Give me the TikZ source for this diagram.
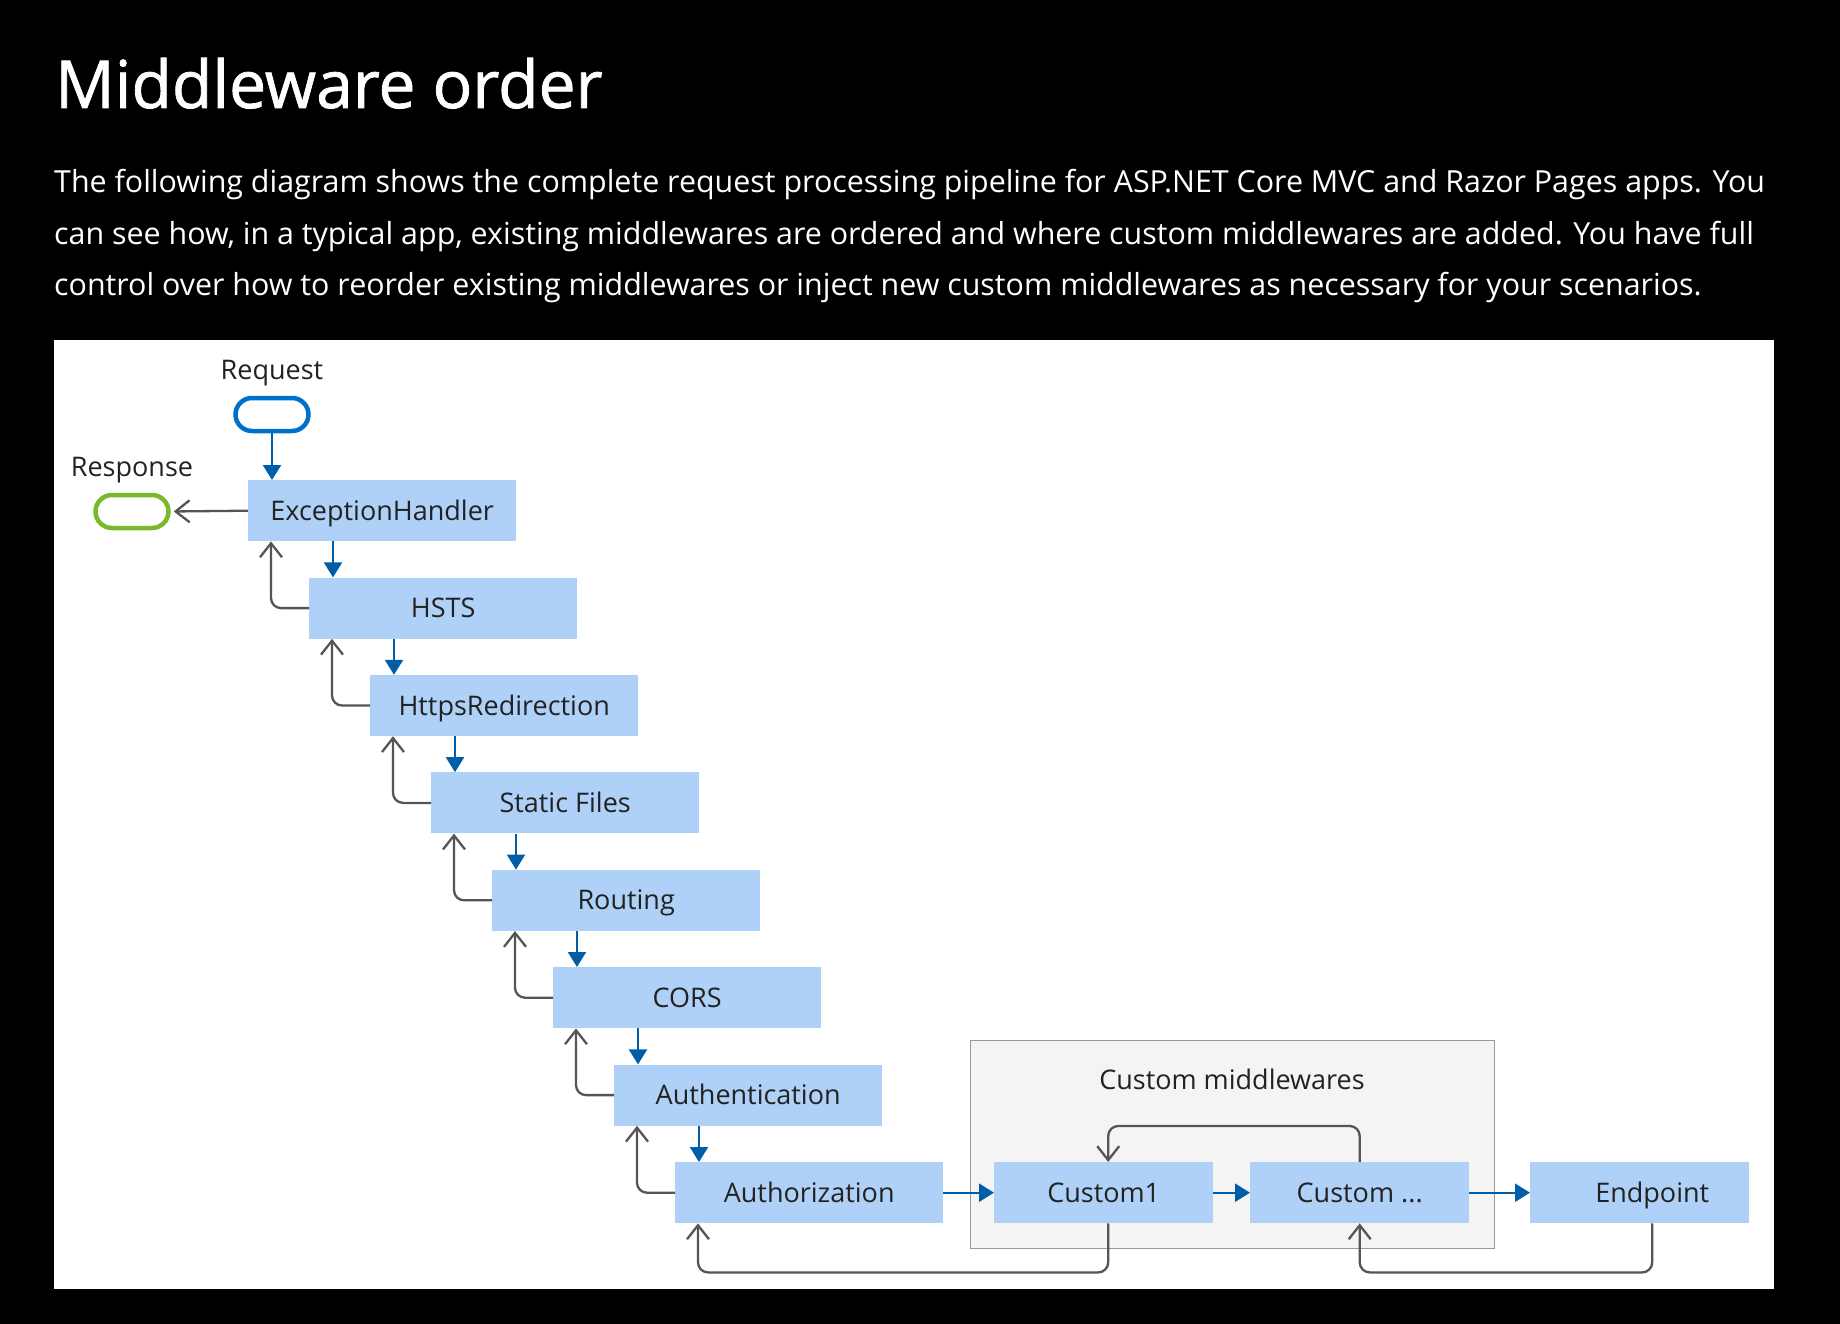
\documentclass[tikz,border=0pt]{standalone}
\usepackage{fontspec}
\setmainfont{Open Sans}
\newfontfamily\titlefont[FakeBold=1.2]{Open Sans}
\usetikzlibrary{arrows.meta}
\definecolor{boxblue}{RGB}{175,208,247}
\definecolor{flowblue}{RGB}{0,93,168}
\definecolor{reqblue}{RGB}{0,112,200}
\definecolor{respgreen}{RGB}{122,185,41}
\definecolor{retgray}{RGB}{85,85,85}
\definecolor{boxgray}{RGB}{244,244,244}
\definecolor{txt}{RGB}{34,34,34}
\tikzset{
  mbox/.style={fill=boxblue, draw=none, inner sep=0pt, minimum width=268pt, minimum height=61pt,
    text height=19.3pt, text depth=0pt, anchor=north west, text=txt,
    font=\fontsize{27}{32}\selectfont},
  cbox/.style={mbox, minimum width=219pt},
  lbl/.style={text=txt, font=\fontsize{27}{32}\selectfont, inner sep=0pt},
  pill/.style={draw, line width=4.5pt, rounded corners=16.5pt, minimum width=73pt, minimum height=33pt, inner sep=0pt},
  flow/.style={draw=flowblue, line width=2.3pt, -{Triangle[length=15pt,width=18pt]}},
  ret/.style={draw=retgray, line width=2.3pt, rounded corners=10pt, -{Straight Barb[length=14pt,width=22pt]}},
  para/.style={anchor=base west, inner sep=0pt, text=white, font=\fontsize{30.4}{36}\selectfont},
}
\begin{document}
\begin{tikzpicture}[x=1pt,y=-1pt]
\fill[black] (0,0) rectangle (1840,1324);
\useasboundingbox (0,0) rectangle (1840,1324);
\fill[white] (54,340) rectangle (1774,1289);

\node[anchor=base west, inner sep=0pt, text=white, font=\titlefont\fontsize{66}{70}\selectfont] (title) at (55,108) {Middleware order};
\node[para] (p1) at (54,193) {The following diagram shows the complete request processing pipeline for ASP.NET Core MVC and Razor Pages apps. You};
\node[para] (p2) at (54,244.5) {can see how, in a typical app, existing middlewares are ordered and where custom middlewares are added. You have full};
\node[para] (p3) at (54,296) {control over how to reorder existing middlewares or inject new custom middlewares as necessary for your scenarios.};

% container
\node[draw=retgray!60, fill=boxgray, line width=1pt, minimum width=524pt, minimum height=208pt, anchor=north west, inner sep=0pt] (cm) at (970,1040) {};
\node[lbl, anchor=base] (cmlbl) at (1232,1089) {Custom middlewares};

% request / response
\node[lbl, anchor=base] (reqlbl) at (272,380) {Request};
\node[pill, draw=reqblue] (req) at (272,414.5) {};
\node[lbl, anchor=base] (resplbl) at (132,476) {Response};
\node[pill, draw=respgreen] (resp) at (132,511.5) {};

% pipeline boxes
\node[mbox] (eh)    at (248,480)    {ExceptionHandler};
\node[mbox] (hsts)  at (309,577.4)  {HSTS};
\node[mbox] (https) at (370,674.8)  {HttpsRedirection};
\node[mbox] (sf)    at (431,772.2)  {Static Files};
\node[mbox] (rt)    at (492,869.6)  {Routing};
\node[mbox] (cors)  at (553,967)    {CORS};
\node[mbox] (authn) at (614,1064.4) {Authentication};
\node[mbox] (authz) at (675,1162)   {Authorization};
\node[cbox] (c1)    at (994,1162)   {Custom1};
\node[cbox] (c2)    at (1250,1162)  {Custom ...};
\node[cbox] (ep)    at (1530,1162)  {\hspace*{25pt}Endpoint};

% request flow
\draw[flow] (req.south) -- (req.south |- eh.north);
\draw[ret, shorten >=3pt] (eh.west) -- (resp.east);

\draw[flow] ([xshift=24pt]hsts.north west |- eh.south) -- ([xshift=24pt]hsts.north west);
\draw[flow] ([xshift=24pt]https.north west |- hsts.south) -- ([xshift=24pt]https.north west);
\draw[flow] ([xshift=24pt]sf.north west |- https.south) -- ([xshift=24pt]sf.north west);
\draw[flow] ([xshift=24pt]rt.north west |- sf.south) -- ([xshift=24pt]rt.north west);
\draw[flow] ([xshift=24pt]cors.north west |- rt.south) -- ([xshift=24pt]cors.north west);
\draw[flow] ([xshift=24pt]authn.north west |- cors.south) -- ([xshift=24pt]authn.north west);
\draw[flow] ([xshift=24pt]authz.north west |- authn.south) -- ([xshift=24pt]authz.north west);

\draw[ret] (hsts.west) -| ([xshift=23pt]eh.south west);
\draw[ret] (https.west) -| ([xshift=23pt]hsts.south west);
\draw[ret] (sf.west) -| ([xshift=23pt]https.south west);
\draw[ret] (rt.west) -| ([xshift=23pt]sf.south west);
\draw[ret] (cors.west) -| ([xshift=23pt]rt.south west);
\draw[ret] (authn.west) -| ([xshift=23pt]cors.south west);
\draw[ret] (authz.west) -| ([xshift=23pt]authn.south west);

\draw[flow] (authz.east) -- (c1.west);
\draw[flow] (c1.east) -- (c2.west);
\draw[flow] (c2.east) -- (ep.west);

% return loops
\draw[ret] (c2.north) -- ++(0,-36) -| ([xshift=4.5pt]c1.north);
\draw[ret] ([xshift=4.5pt]c1.south) -- ++(0,49) -| ([xshift=23pt]authz.south west);
\draw[ret] ([xshift=12.5pt]ep.south) -- ++(0,49) -| (c2.south);
\end{tikzpicture}
\end{document}
